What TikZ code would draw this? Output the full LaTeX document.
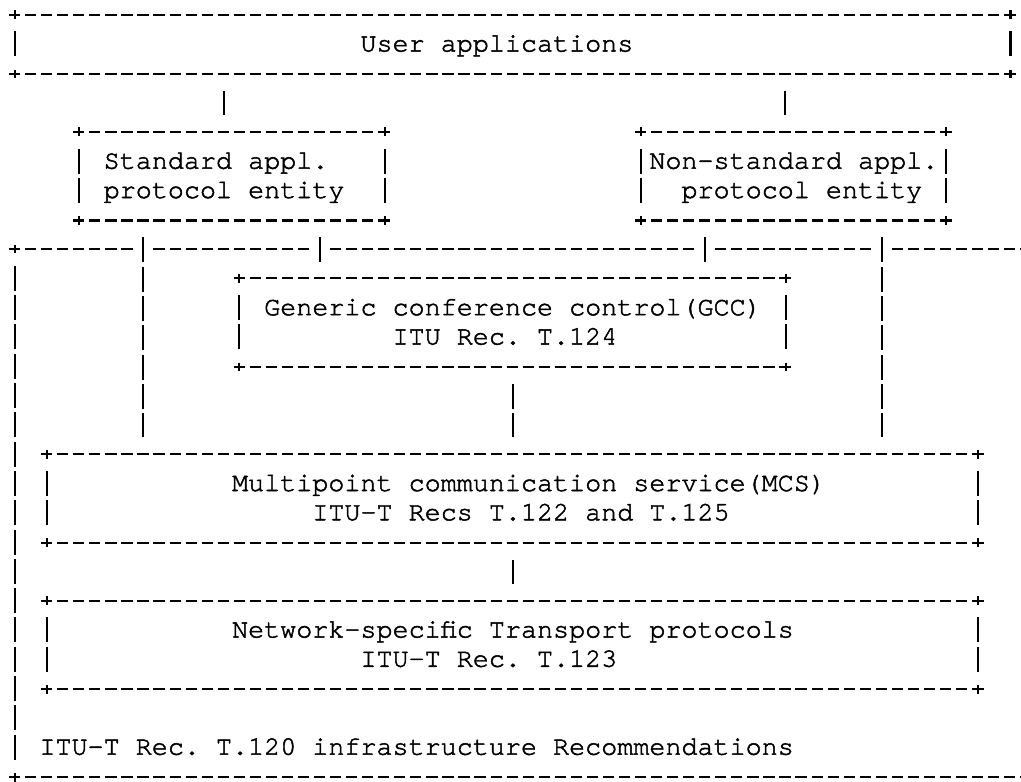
\documentclass[tikz,border=0pt]{standalone}
\usepackage{fontspec}
\usepackage{tikz}

\newfontfamily\cursorfont[RawFeature={embolden=1.8}]{TeX Gyre Cursor}
\newcommand{\asciifont}{\cursorfont\fontsize{13.375pt}{14.65pt}\selectfont}
\frenchspacing

\tikzset{
  box/.style={draw=none, inner sep=0pt},
  boxsize/.style 2 args={minimum width=#1*8.025pt, minimum height=#2*14.65pt},
  hrule/.style={line width=1.05pt, dash pattern=on 5.6pt off 2.425pt, dash phase=2.8pt},
  vrule/.style={line width=1.05pt, dash pattern=on 12.5pt off 2.15pt, shorten <=8.4pt, shorten >=8.4pt},
  crossing/.style={vrule, preaction={draw=white, line width=6.5pt}},
  plusbar/.style={line width=1.05pt},
  txt/.style={font=\asciifont, anchor=base west, inner sep=0pt, yshift=-3.6pt}
}

\begin{document}
\begin{tikzpicture}[x=8.025pt, y=-14.65pt]
   \useasboundingbox (-0.935,0.488) rectangle (62.679,27.143);
   \fill[white] (-0.935,0.488) rectangle (62.679,27.143);
   \clip (-0.935,0.488) rectangle (62.679,27.143);

   % boxes, one column = one character, one row = one line
   \node[box, boxsize={62}{2}] (user) at (31,2) {};
   \node[box, boxsize={19}{3}] (stdapp) at (13.5,6.5) {};
   \node[box, boxsize={19}{3}] (nonstd) at (48.5,6.5) {};
   \node[box, boxsize={66}{18}] (infra) at (33,18) {};
   \node[box, boxsize={34}{3}] (gcc) at (31,11.5) {};
   \node[box, boxsize={58}{3}] (mcs) at (31,17.5) {};
   \node[box, boxsize={58}{3}] (net) at (31,22.5) {};

   \foreach \bx in {user,stdapp,nonstd,infra,gcc,mcs,net}{
      \draw[hrule] (\bx.north west) -- (\bx.north east);
      \draw[hrule] (\bx.south west) -- (\bx.south east);
      \draw[vrule] (\bx.north west) -- (\bx.south west);
      \draw[vrule] (\bx.north east) -- (\bx.south east);
      \foreach \k in {north west,north east,south west,south east}{
         \draw[plusbar] ([yshift=2.2pt]\bx.\k) -- ([yshift=-2.2pt]\bx.\k);
         \draw[plusbar] ([xshift=-2.8pt]\bx.\k) -- ([xshift=2.8pt]\bx.\k);
      }
   }

   % texts
   \node[txt] (usertxt) at (21.5,2) {User applications};
   \node[txt] (stdtxta) at (5.5,6) {Standard appl.};
   \node[txt] (stdtxtb) at (5.5,7) {protocol entity};
   \node[txt] (nonstdtxta) at (39.5,6) {Non-standard appl.};
   \node[txt] (nonstdtxtb) at (41.5,7) {protocol entity};
   \node[txt] (gcctxta) at (15.5,11) {Generic conference control(GCC)};
   \node[txt] (gcctxtb) at (23.5,12) {ITU Rec. T.124};
   \node[txt] (mcstxta) at (13.5,17) {Multipoint communication service(MCS)};
   \node[txt] (mcstxtb) at (18.5,18) {ITU-T Recs T.122 and T.125};
   \node[txt] (nettxta) at (13.5,22) {Network-specific Transport protocols};
   \node[txt] (nettxtb) at (21.5,23) {ITU-T Rec. T.123};
   \node[txt] (infratxt) at (1.5,26) {ITU-T Rec. T.120 infrastructure Recommendations};

   % connectors
   \foreach \c in {8,13,19,31,43,48,54}
      \coordinate (c\c) at (\c,0);
   \draw[vrule] (user.south -| c13) -- (stdapp.north -| c13);
   \draw[vrule] (user.south -| c48) -- (nonstd.north -| c48);
   \draw[crossing] (stdapp.south -| c8) -- (mcs.north -| c8);
   \draw[crossing] (stdapp.south -| c19) -- (gcc.north -| c19);
   \draw[crossing] (nonstd.south -| c43) -- (gcc.north -| c43);
   \draw[crossing] (nonstd.south -| c54) -- (mcs.north -| c54);
   \draw[vrule] (gcc.south -| c31) -- (mcs.north -| c31);
   \draw[vrule] (mcs.south -| c31) -- (net.north -| c31);
\end{tikzpicture}
\end{document}
